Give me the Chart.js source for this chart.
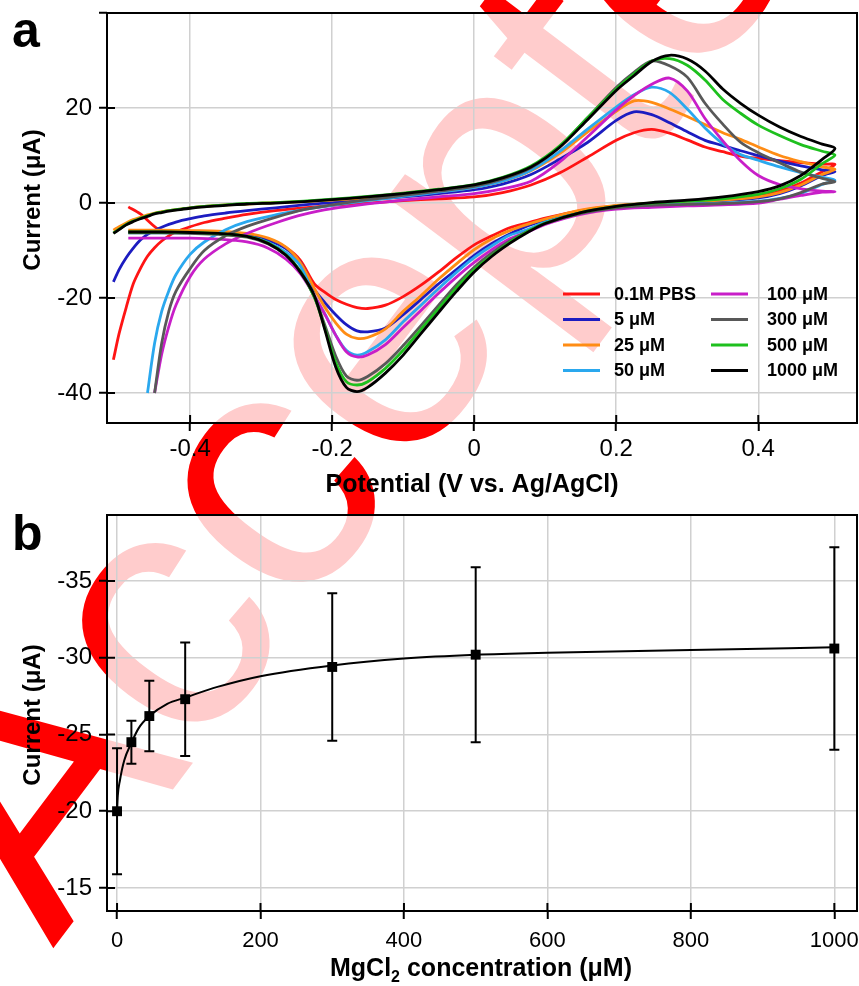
<!DOCTYPE html>
<html>
<head>
<meta charset="utf-8">
<script src="https://cdn.jsdelivr.net/npm/chart.js@4.4.1/dist/chart.umd.min.js"></script>
<style>
  html, body { margin: 0; padding: 0; background: #fff; }
  #page { position: relative; width: 859px; height: 986px; overflow: hidden; }
  #page canvas { position: absolute; left: 0; }
</style>
</head>
<body>
<div id="page">
  <canvas id="stamp" width="859" height="986" style="top:0"></canvas>
  <canvas id="cvChart" width="900" height="500" style="top:0"></canvas>
  <canvas id="doseChart" width="900" height="486" style="top:500px"></canvas>
</div>
<script>
// Panel a - cyclic voltammograms (forward scan then reverse scan)
const fwdV = [-0.508, -0.5, -0.49, -0.48, -0.47, -0.46, -0.45, -0.44, -0.43, -0.42, -0.4, -0.38, -0.35, -0.32, -0.28, -0.24, -0.2, -0.15, -0.1, -0.05,
              0, 0.04, 0.08, 0.12, 0.16, 0.2, 0.225, 0.25, 0.275, 0.3, 0.325, 0.35, 0.375, 0.4, 0.43, 0.46, 0.49, 0.508];
const revV = [0.49, 0.46, 0.43, 0.4, 0.35, 0.3, 0.25, 0.2, 0.15, 0.1, 0.075, 0.05, 0.025, 0, -0.025, -0.05, -0.075, -0.1, -0.125, -0.15,
              -0.165, -0.18, -0.195, -0.21, -0.225, -0.245, -0.265, -0.29, -0.32, -0.36, -0.4, -0.44, -0.47, -0.487];

const fwdPBS = [-33, -27.5, -22, -17, -13.8, -11.2, -9.4, -8, -6.9, -6.1, -5, -4.1, -3.2, -2.4, -1.6, -1, -0.5, 0, 0.5, 0.9,
                1.3, 2.2, 3.8, 6.3, 9.7, 13.2, 14.8, 15.5, 14.7, 13.3, 11.8, 10.8, 9.9, 9.4, 8.9, 8.5, 8.2, 8.1];
const revPBS = [6.6, 4.2, 2.5, 1.4, 0.6, 0.2, -0.1, -0.6, -1.6, -3.2, -4.2, -5.2, -6.9, -8.8, -11.5, -14.5, -17.3, -19.7, -21.5, -22.2,
                -22, -21.3, -20.3, -18.8, -17, -12, -9.4, -7.6, -6.6, -6.2, -6, -5.9, -2.3, -0.8];

const fwd5 = [-16.6, -14, -11.5, -9.5, -7.8, -6.6, -5.8, -5.1, -4.5, -4, -3.3, -2.7, -2.1, -1.6, -1, -0.4, 0.1, 0.7, 1.3, 2,
              2.8, 4, 6, 9.2, 12.8, 17.4, 19.2, 18.6, 16.9, 15, 13.2, 12.1, 11, 10, 8.8, 7.8, 7, 6.6];
const rev5 = [5.8, 3.6, 2, 1.1, 0.5, 0.2, -0.1, -0.6, -1.7, -3.6, -4.8, -6.5, -8.5, -11, -14, -17, -20.3, -23.5, -26.3, -27.1,
              -26.9, -25.6, -23.5, -21, -18.2, -12.5, -9.6, -7.8, -6.7, -6.2, -6, -6, -6, -6];

const fwd25 = [-5.7, -5, -4.2, -3.5, -3, -2.5, -2.1, -1.8, -1.6, -1.4, -1, -0.7, -0.4, -0.2, 0.1, 0.3, 0.6, 1.1, 1.7, 2.4,
               3.3, 4.6, 6.8, 10.4, 15, 19.3, 21.5, 21.2, 19.8, 18.2, 16.5, 14.8, 13.4, 11.8, 10, 8.7, 7.6, 7.1];
const rev25 = [6, 3.8, 2.2, 1.3, 0.6, 0.3, 0, -0.5, -1.5, -3.4, -4.5, -5.8, -7.5, -9.8, -12.8, -16, -19.5, -22.8, -26.5, -28.3,
               -28.5, -27.6, -25.2, -22, -18, -12.5, -9.3, -7.4, -6.4, -5.9, -5.8, -5.7, -5.7, -5.7];

const fwd50 = [null, null, null, null, null, -40, -29.5, -22.8, -18.5, -15.1, -10.8, -8.2, -5.6, -3.9, -2.5, -1.4, -0.5, 0.5, 1.4, 2.3,
               3.3, 4.6, 6.9, 10.8, 15.6, 20.2, 22.8, 24.4, 23.3, 19.8, 15.8, 12.5, 10.2, 9, 7.6, 6.4, 5.4, 4.8];
const rev50 = [3.9, 2, 1, 0.4, 0, -0.2, -0.5, -1, -2.1, -4, -5.6, -6.8, -9, -11.5, -14.6, -18, -21.5, -25, -28.8, -31.3,
               -32, -31, -27.8, -23.4, -19.6, -13.2, -10.4, -8.3, -7, -6.5, -6.3, -6.3, -6.3, -6.3];

const fwd100 = [null, null, null, null, null, null, -40, -31.8, -26, -21.5, -15.5, -11.8, -8.6, -6.4, -4.2, -2.4, -1.2, -0.2, 0.6, 1.3,
                2, 3, 4.6, 8.6, 14, 19.6, 22.6, 25, 26.3, 23.6, 17.8, 13.1, 8.9, 5.8, 3.9, 3, 2.5, 2.4];
const rev100 = [2.3, 1.6, 0.8, 0, -0.4, -0.6, -0.9, -1.3, -2.4, -4.5, -6.1, -7.5, -9.8, -12.5, -15.6, -19, -22.6, -26.2, -29.8, -32,
                -32.4, -31.3, -27.8, -23.5, -19.5, -14.8, -11.8, -9.5, -8.2, -7.6, -7.4, -7.4, -7.4, -7.4];

const fwd300 = [null, null, null, null, null, null, -40, -29.5, -22.8, -18.6, -13.8, -10, -6.9, -4.9, -3, -1.4, -0.4, 0.7, 1.6, 2.5,
                3.5, 5, 7.4, 11.8, 18, 24.3, 27.5, 29.9, 28.9, 26.5, 21, 16.6, 12.8, 10.6, 8.5, 6.5, 5.2, 4.5];
const rev300 = [4, 2.2, 0.9, 0.3, -0.1, -0.3, -0.5, -1, -2.2, -4.3, -6, -8, -10.5, -13.5, -17.2, -21.5, -25.8, -30, -33.8, -36.5,
                -37.3, -36.4, -32.2, -25.8, -19.8, -14.3, -11, -8.6, -7.2, -6.6, -6.4, -6.3, -6.3, -6.3];

const fwd500 = [-6.3, -5.5, -4.5, -3.8, -3.2, -2.7, -2.2, -1.9, -1.6, -1.4, -1, -0.7, -0.4, -0.1, 0.1, 0.4, 0.8, 1.4, 2.1, 2.9,
                3.9, 5.4, 7.8, 12, 18, 24, 27.2, 29.9, 30.4, 29, 25.9, 21.8, 18.9, 16.4, 14.2, 12.3, 10.9, 10.1];
const rev500 = [8.3, 5, 3, 1.8, 0.9, 0.4, 0, -0.7, -2, -4.2, -6, -8.3, -11, -14, -17.8, -22.2, -26.6, -31, -34.8, -37.6,
                -38.3, -37.6, -33.5, -26.5, -19.8, -14.3, -10.9, -8.4, -7, -6.4, -6.2, -6.1, -6.1, -6.1];

const fwd1000 = [-6.4, -5.6, -4.6, -3.9, -3.3, -2.8, -2.3, -2, -1.7, -1.5, -1.1, -0.8, -0.5, -0.2, 0, 0.3, 0.7, 1.3, 2, 2.8,
                 3.8, 5.3, 7.6, 11.7, 17.6, 23.7, 26.8, 29.8, 31.1, 30.3, 27.8, 24, 21, 18.5, 16, 14, 12.4, 11.5];
const rev1000 = [9.2, 5.8, 3.6, 2.4, 1.3, 0.6, 0.1, -0.7, -2, -4.3, -6.2, -8.5, -11.2, -14.5, -18.6, -23, -27.5, -32, -35.8, -38.8,
                 -39.7, -38.8, -34.5, -26.8, -19.5, -14.5, -11, -8.5, -7, -6.4, -6.2, -6.1, -6.1, -6.1];

const cvLabels = ['0.1M PBS', '5 μM', '25 μM', '50 μM', '100 μM', '300 μM', '500 μM', '1000 μM'];
const cvColors = ['#ff1414', '#1c1cc0', '#ff8c14', '#2aa8ee', '#c81ec8', '#585858', '#1ec01e', '#000000'];
const cvForward = [fwdPBS, fwd5, fwd25, fwd50, fwd100, fwd300, fwd500, fwd1000];
const cvReverse = [revPBS, rev5, rev25, rev50, rev100, rev300, rev500, rev1000];

// Panel b - peak current vs MgCl2 concentration
const concX = [0, 20, 45, 95, 300, 500, 1000];
const meanCurrent = [-20.0, -24.5, -26.2, -27.3, -29.4, -30.2, -30.6];
const errCurrent = [4.1, 1.4, 2.3, 3.7, 4.8, 5.7, 6.6];
const fitConc = [0, 1, 4, 10, 20, 30, 45, 70, 95, 140, 200, 300, 400, 500, 600, 800, 1000];
const fitCurrent = [-20.0, -21.0, -22.0, -23.3, -24.45, -25.4, -26.2, -27.0, -27.4, -28.1, -28.8, -29.5, -29.95, -30.2, -30.33, -30.5, -30.68];

const FONT = '"Liberation Sans", Arial, sans-serif';
const tickFont = { family: FONT, size: 24 };
const CANVAS_W = 900;   // wider than the page so the last tick label never squeezes the plot

// watermark behind both panels
function drawStamp() {
    const ctx = document.getElementById('stamp').getContext('2d');
    ctx.save();
    ctx.translate(492, 366);
    ctx.rotate(-53 * Math.PI / 180);
    ctx.font = '350px ' + FONT;
    ctx.fillStyle = '#ff0000';
    ctx.textAlign = 'center';
    ctx.textBaseline = 'alphabetic';
    ctx.fillText('Accepted', 0, 0);
    ctx.restore();
}

// plot area is a faded window over the watermark
const plotWindow = {
    id: 'plotWindow',
    beforeDraw(chart) {
        const { ctx, chartArea: a } = chart;
        ctx.save();
        ctx.fillStyle = 'rgba(255,255,255,0.8)';
        ctx.fillRect(a.left, a.top, a.right - a.left, a.bottom - a.top);
        ctx.restore();
    },
    afterDraw(chart) {
        const { ctx, chartArea: a, scales } = chart;
        ctx.save();
        ctx.strokeStyle = '#000';
        ctx.lineWidth = 2;
        ctx.strokeRect(a.left, a.top, a.right - a.left, a.bottom - a.top);
        // inner half of the crossing tick marks
        ctx.beginPath();
        scales.x.ticks.forEach((t, i) => {
            const px = scales.x.getPixelForTick(i);
            ctx.moveTo(px, a.bottom);
            ctx.lineTo(px, a.bottom - 8);
        });
        scales.y.ticks.forEach((t, i) => {
            if (t.label === '') return;
            const py = scales.y.getPixelForTick(i);
            ctx.moveTo(a.left, py);
            ctx.lineTo(a.left + 8, py);
        });
        ctx.stroke();
        ctx.restore();
    }
};

function axisStyle(size) {
    return {
        grid: { color: '#d0d0d0', lineWidth: 1.5, tickColor: '#000', tickLength: 8, tickWidth: 2 },
        border: { display: false },
        afterFit: s => {
            if (s.isHorizontal()) s.height = size; else s.width = size;
            s.paddingLeft = 0; s.paddingRight = 0; s.paddingTop = 0; s.paddingBottom = 0;
        }
    };
}

function renderCvChart() {
    const datasets = cvLabels.map((label, i) => {
        const fwd = fwdV.map((v, k) => ({ x: v, y: cvForward[i][k] })).filter(p => p.y !== null);
        const rev = revV.map((v, k) => ({ x: v, y: cvReverse[i][k] }));
        return {
            label,
            data: fwd.concat(rev),
            borderColor: cvColors[i],
            borderWidth: 2.8,
            showLine: true,
            pointRadius: 0,
            tension: 0.3,
            order: cvLabels.length - 1 - i
        };
    });

    const cvLegend = {
        id: 'cvLegend',
        afterDatasetsDraw(chart) {
            const { ctx, chartArea: a } = chart;
            ctx.save();
            ctx.font = 'bold 18px ' + FONT;
            ctx.textBaseline = 'middle';
            ctx.lineWidth = 3;
            chart.data.datasets.forEach((ds, i) => {
                const col = Math.floor(i / 4);
                const lx = a.right - 294 + col * 148;
                const ly = a.bottom - 129 + (i % 4) * 25.5;
                ctx.strokeStyle = ds.borderColor;
                ctx.beginPath();
                ctx.moveTo(lx, ly);
                ctx.lineTo(lx + 37, ly);
                ctx.stroke();
                ctx.fillStyle = '#000';
                ctx.fillText(ds.label, lx + (col ? 56 : 51), ly + 1);
            });
            ctx.restore();
        }
    };

    const cvTitles = {
        id: 'cvTitles',
        afterDraw(chart) {
            const ctx = chart.ctx;
            ctx.save();
            ctx.fillStyle = '#000';
            ctx.font = 'bold 50px ' + FONT;
            ctx.fillText('a', 12, 47);
            ctx.font = 'bold 25px ' + FONT;
            ctx.textAlign = 'center';
            ctx.fillText('Potential (V vs. Ag/AgCl)', 472, 492);
            ctx.translate(40, 200);
            ctx.rotate(-Math.PI / 2);
            ctx.font = 'bold 24px ' + FONT;
            ctx.fillText('Current (μA)', 0, 0);
            ctx.restore();
        }
    };

    new Chart(document.getElementById('cvChart'), {
        type: 'scatter',
        data: { datasets },
        options: {
            responsive: false,
            animation: false,
            events: [],
            layout: { padding: { top: 13, right: CANVAS_W - 857, left: 0, bottom: 0 } },
            plugins: { legend: { display: false }, tooltip: { enabled: false } },
            scales: {
                x: {
                    type: 'linear', min: -0.517, max: 0.539,
                    ticks: {
                        stepSize: 0.2, includeBounds: false, font: tickFont, color: '#000', padding: 4, maxRotation: 0,
                        callback: v => (Math.abs(v) < 1e-9 ? '0' : v.toFixed(1))
                    },
                    ...axisStyle(77)
                },
                y: {
                    type: 'linear', min: -46.3, max: 40,
                    ticks: {
                        stepSize: 20, includeBounds: false, font: tickFont, color: '#000', padding: 7,
                        callback: v => (v === 40 ? '' : String(v))
                    },
                    ...axisStyle(107)
                }
            }
        },
        plugins: [plotWindow, cvLegend, cvTitles]
    });
}

function renderDoseChart() {
    const errorBars = {
        id: 'errorBars',
        beforeDatasetsDraw(chart) {
            const { ctx, scales: { x, y } } = chart;
            ctx.save();
            ctx.strokeStyle = '#000';
            ctx.lineWidth = 2;
            ctx.beginPath();
            concX.forEach((c, i) => {
                const px = x.getPixelForValue(c);
                const hi = y.getPixelForValue(meanCurrent[i] - errCurrent[i]);
                const lo = y.getPixelForValue(meanCurrent[i] + errCurrent[i]);
                ctx.moveTo(px, hi); ctx.lineTo(px, lo);
                ctx.moveTo(px - 5, hi); ctx.lineTo(px + 5, hi);
                ctx.moveTo(px - 5, lo); ctx.lineTo(px + 5, lo);
            });
            ctx.stroke();
            ctx.restore();
        }
    };

    const doseTitles = {
        id: 'doseTitles',
        afterDraw(chart) {
            const ctx = chart.ctx;
            ctx.save();
            ctx.fillStyle = '#000';
            ctx.font = 'bold 50px ' + FONT;
            ctx.fillText('b', 12, 50);
            // x title with subscript 2
            const big = 'bold 25px ' + FONT, small = 'bold 16px ' + FONT;
            ctx.font = big;
            const w1 = ctx.measureText('MgCl').width;
            const w3 = ctx.measureText(' concentration (μM)').width;
            ctx.font = small;
            const w2 = ctx.measureText('2').width;
            const x0 = 481 - (w1 + w2 + w3) / 2;
            const base = 476;
            ctx.font = big; ctx.fillText('MgCl', x0, base);
            ctx.font = small; ctx.fillText('2', x0 + w1, base + 6);
            ctx.font = big; ctx.fillText(' concentration (μM)', x0 + w1 + w2, base);
            ctx.translate(40, 215);
            ctx.rotate(-Math.PI / 2);
            ctx.textAlign = 'center';
            ctx.font = 'bold 24px ' + FONT;
            ctx.fillText('Current (μA)', 0, 0);
            ctx.restore();
        }
    };

    new Chart(document.getElementById('doseChart'), {
        type: 'scatter',
        data: {
            datasets: [
                {
                    label: 'fit',
                    data: fitConc.map((c, i) => ({ x: c, y: fitCurrent[i] })),
                    showLine: true,
                    borderColor: '#000',
                    borderWidth: 2,
                    pointRadius: 0,
                    cubicInterpolationMode: 'monotone'
                },
                {
                    label: 'mean',
                    data: concX.map((c, i) => ({ x: c, y: meanCurrent[i] })),
                    pointStyle: 'rect',
                    pointRadius: 7,
                    backgroundColor: '#000',
                    borderColor: '#000',
                    borderWidth: 0
                }
            ]
        },
        options: {
            responsive: false,
            animation: false,
            events: [],
            layout: { padding: { top: 15, right: CANVAS_W - 857, left: 0, bottom: 0 } },
            plugins: { legend: { display: false }, tooltip: { enabled: false } },
            scales: {
                x: {
                    type: 'linear', min: -14, max: 1031.6,
                    ticks: { stepSize: 200, includeBounds: false, font: { family: FONT, size: 22 }, color: '#000', padding: 9, maxRotation: 0,
                             callback: v => String(v) },
                    ...axisStyle(75)
                },
                y: {
                    type: 'linear', min: -39.3, max: -13.5, reverse: true,
                    ticks: { stepSize: 5, includeBounds: false, font: tickFont, color: '#000', padding: 7,
                             callback: v => String(v) },
                    ...axisStyle(107)
                }
            }
        },
        plugins: [plotWindow, errorBars, doseTitles]
    });
}

drawStamp();
renderCvChart();
renderDoseChart();
</script>
</body>
</html>
